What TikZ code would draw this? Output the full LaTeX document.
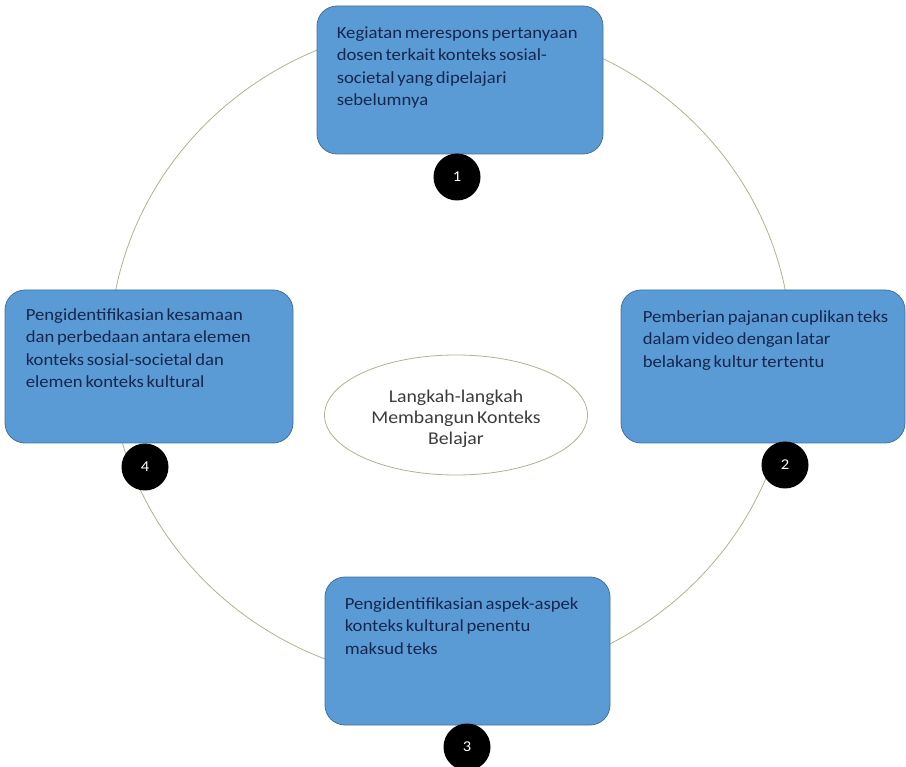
\documentclass[tikz,border=0pt]{standalone}
\usepackage{fontspec}
\setmainfont[WordSpace=0.65, FakeStretch=1.1]{Carlito}
\usetikzlibrary{shapes.geometric}

\definecolor{stepfill}{RGB}{91,155,213}
\definecolor{stepedge}{RGB}{65,113,156}
\definecolor{steptext}{RGB}{22,38,78}
\definecolor{ringline}{RGB}{175,178,145}
\definecolor{hubtext}{RGB}{60,60,60}

\tikzset{
  stepbox/.style={draw=stepedge, line width=0.8pt, fill=stepfill,
    rounded corners=20pt, minimum width=286pt, minimum height=150pt},
  steptxt/.style={anchor=north west, inner sep=0pt, align=left,
    text=steptext, font=\fontsize{17}{22.3}\selectfont},
  badge/.style={circle, fill=black, text=white, minimum size=47pt,
    inner sep=0pt, font=\fontsize{15}{15}\selectfont},
  ring/.style={draw=ringline, line width=0.8pt},
  hub/.style={ellipse, draw=ringline, line width=0.8pt, fill=white,
    minimum width=263pt, minimum height=120pt},
  hubtxt/.style={align=center, inner sep=0pt, text=hubtext,
    font=\fontsize{18}{21}\selectfont}
}

\begin{document}
\begin{tikzpicture}[x=1pt, y=-1pt]
  \useasboundingbox (0,0) rectangle (906,767);
  \clip (0,0) rectangle (906,767);

  % cycle ring behind the steps
  \draw[ring] (450.5,353) ellipse [x radius=341pt, y radius=329pt];

  % central title
  \node[hub] (hub) at (456,415) {};
  \node[hubtxt] (title) at ([shift={(0,4)}]hub.center)
    {Langkah-langkah\\Membangun Konteks\\Belajar};

  % step boxes
  \node[stepbox, minimum width=286pt, minimum height=148pt] (b1) at (460,80) {};
  \node[stepbox, minimum width=284pt, minimum height=153pt] (b2) at (763,366.5) {};
  \node[stepbox, minimum width=285pt, minimum height=148pt] (b3) at (467.5,651) {};
  \node[stepbox, minimum width=288pt, minimum height=153pt] (b4) at (149,366.5) {};

  \node[steptxt] (t1) at ([shift={(20,21)}]b1.north west)
    {Kegiatan merespons pertanyaan\\dosen terkait konteks sosial-\\societal yang dipelajari\\sebelumnya};
  \node[steptxt] (t2) at ([shift={(22,21)}]b2.north west)
    {Pemberian pajanan cuplikan teks\\dalam video dengan latar\\belakang kultur tertentu};
  \node[steptxt] (t3) at ([shift={(20,21)}]b3.north west)
    {Pengidentifikasian aspek-aspek\\konteks kultural penentu\\maksud teks};
  \node[steptxt] (t4) at ([shift={(21,19)}]b4.north west)
    {Pengidentifikasian kesamaan\\dan perbedaan antara elemen\\konteks sosial-societal dan\\elemen konteks kultural};

  % numbered badges
  \node[badge] (n1) at (457,177) {1};
  \node[badge] (n2) at (785,465) {2};
  \node[badge] (n3) at (467,747) {3};
  \node[badge] (n4) at (145,467) {4};
\end{tikzpicture}
\end{document}
